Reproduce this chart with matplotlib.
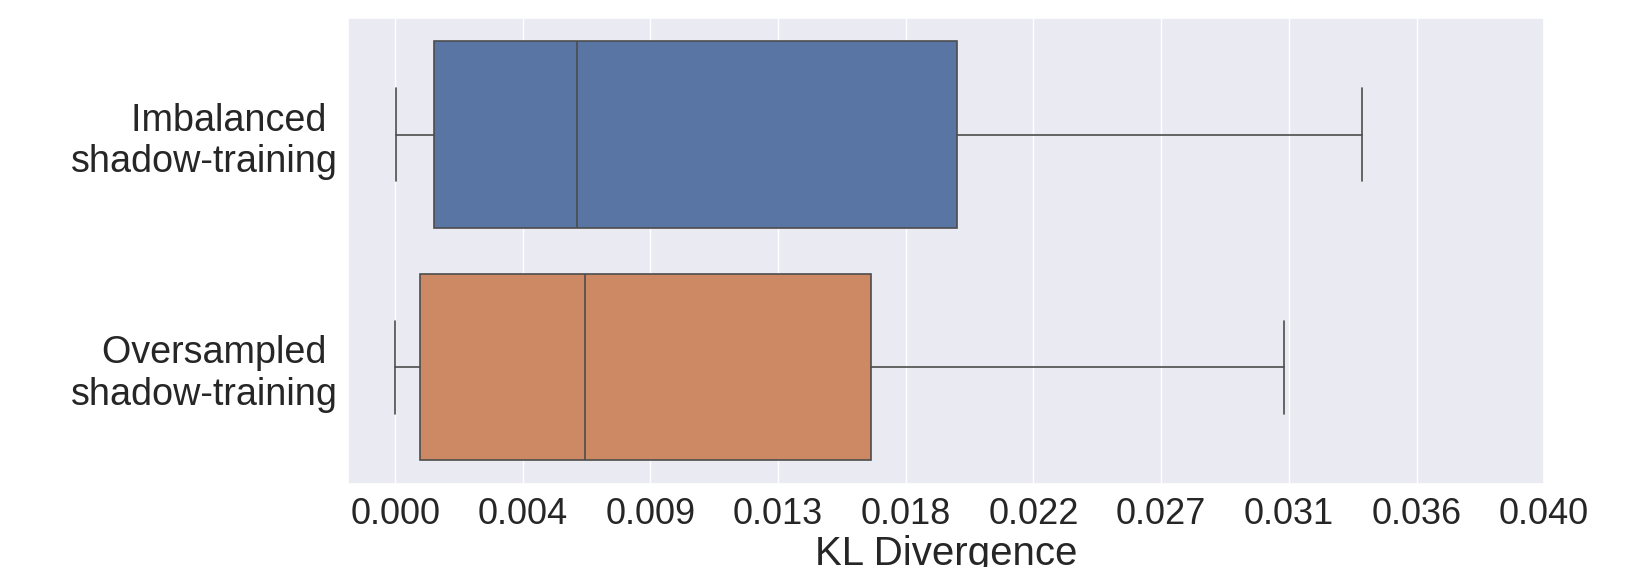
import numpy as np
import matplotlib
matplotlib.use("Agg")
import matplotlib.pyplot as plt
import seaborn as sns

# box statistics
groups = ["Imbalanced \nshadow-training", "Oversampled \nshadow-training"]
whislo = [0.00004, 0.0]
q1 = [0.00135, 0.00087]
med = [0.00633, 0.00662]
q3 = [0.01955, 0.01657]
whishi = [0.03367, 0.03095]
colors = ["#5875a4", "#cc8963"]

sns.set_theme(style="darkgrid")
plt.rcParams['font.family'] = ['Liberation Sans', 'DejaVu Sans']

fig = plt.figure(figsize=(16.48, 5.67), dpi=100)
ax = fig.add_axes([0.211, 0.147, 0.726, 0.821])

stats = []
for i in range(len(groups)):
    stats.append(dict(whislo=whislo[i], q1=q1[i], med=med[i], q3=q3[i],
                      whishi=whishi[i], fliers=[], label=groups[i]))

lc = "#4d4d4d"
bp = ax.bxp(stats, positions=range(len(groups)), vert=False, widths=0.8,
            patch_artist=True, showfliers=False,
            boxprops=dict(edgecolor=lc, linewidth=1.2),
            medianprops=dict(color=lc, linewidth=1.2),
            whiskerprops=dict(color=lc, linewidth=1.2),
            capprops=dict(color=lc, linewidth=1.2),
            capwidths=0.4)
for patch, c in zip(bp['boxes'], colors):
    patch.set_facecolor(c)

ax.set_ylim(1.5, -0.5)
ax.set_xlim(-0.00165, 0.040)
ticks = np.linspace(0, 0.04, 10)
ax.set_xticks(ticks)
ax.set_xticklabels(["%.3f" % t for t in ticks], fontsize=26)
ax.set_yticks(range(len(groups)))
ax.set_yticklabels(groups, fontsize=27.2)
ax.tick_params(axis='y', pad=1.5)
ax.yaxis.grid(False)
ax.set_xlabel("KL Divergence", fontsize=29, labelpad=2)

fig.savefig("out.png", dpi=100)
